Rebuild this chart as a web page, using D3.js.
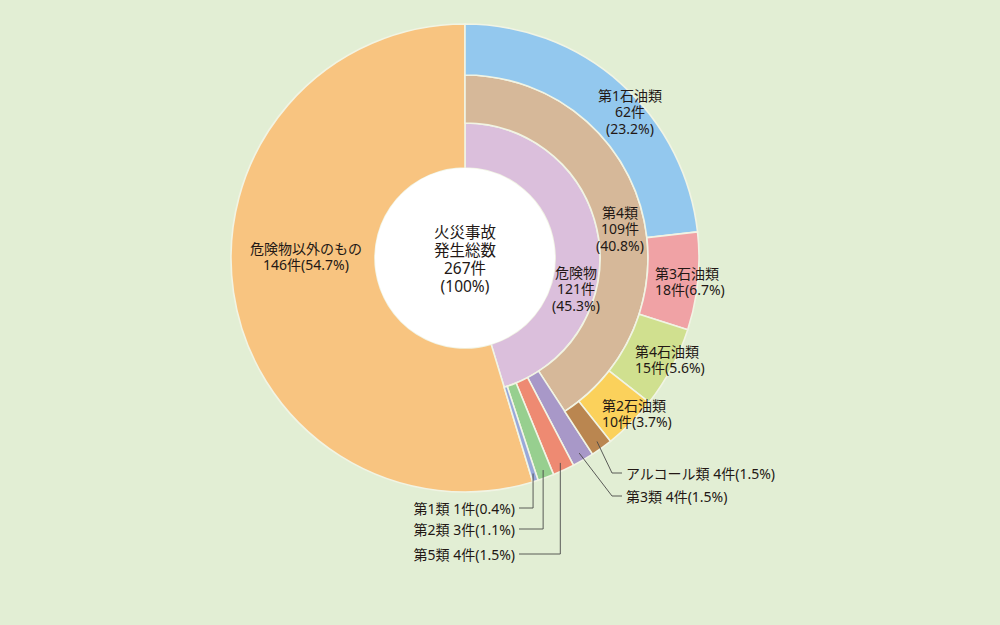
<!DOCTYPE html>
<html><head><meta charset="utf-8">
<script src="https://cdn.jsdelivr.net/npm/d3@7"></script>
<style>
body{margin:0;background:#e2eed4}
svg{display:block}
text{font-family:"Noto Sans","Noto Sans CJK JP",sans-serif;fill:#231815}
</style>
</head><body>
<svg width="1000" height="625"></svg>
<script>
// ---- data ----
const total = 267;
const groupNames  = ["危険物", "危険物以外のもの"];
const groupValues = [121, 146];
const classNames  = ["第4類", "第3類", "第5類", "第2類", "第1類"];
const classValues = [109, 4, 4, 3, 1];
const oilNames    = ["第1石油類", "第3石油類", "第4石油類", "第2石油類", "アルコール類"];
const oilValues   = [62, 18, 15, 10, 4];
const centerLines = ["火災事故", "発生総数", "267件", "(100%)"];

// ---- styles ----
const groupColors = ["#dbbfdc", "#f8c480"];
const classColors = ["#d6b899", "#a898c8", "#ee8a72", "#97cf8f", "#98a8da"];
const oilColors   = ["#93c8ee", "#f0a2a5", "#d0e08f", "#fbd15b", "#ba8650"];

const cx = 465, cy = 258;
const R0 = 90, R1 = 135, R2 = 183, R3 = 234;

const svg = d3.select("svg");
const g = svg.append("g").attr("transform", `translate(${cx},${cy})`);
const ang = d3.scaleLinear().domain([0, total]).range([0, 2 * Math.PI]);
const arc = d3.arc();
const pct = v => d3.format(".1f")(v / total * 100) + "%";

function segs(names, values, start, radii, colors) {
  let acc = start;
  return names.map((n, i) => {
    const s = { name: n, value: values[i], a0: ang(acc), a1: ang(acc + values[i]),
                r0: radii[i][0], r1: radii[i][1], color: colors[i] };
    acc += values[i];
    return s;
  });
}
const groups  = segs(groupNames, groupValues, 0, [[R0, R1], [R0, R3]], groupColors);
const classes = segs(classNames, classValues, 0,
  classNames.map((n, i) => i === 0 ? [R1, R2] : [R1, R3]), classColors);
const oils    = segs(oilNames, oilValues, 0, oilNames.map(() => [R2, R3]), oilColors);

const all = [...groups, ...classes, ...oils];
g.selectAll("path.s").data(all).join("path")
  .attr("class", "s")
  .attr("d", d => arc({ innerRadius: d.r0, outerRadius: d.r1, startAngle: d.a0, endAngle: d.a1 }))
  .attr("fill", d => d.color)
  .attr("stroke", "#f1f4e4")
  .attr("stroke-width", 1.6);

g.append("circle").attr("r", R0).attr("fill", "#ffffff");

// ---- labels ----
function multi(x, y, lines, anchor, size, lh) {
  const t = svg.append("text").attr("text-anchor", anchor)
    .attr("font-size", size);
  lines.forEach((l, i) => t.append("tspan").attr("x", x).attr("y", y + i * lh)
    .attr("dominant-baseline", "central").text(l));
}
const FS = 14, LH = 16.5;
multi(cx, 232, centerLines, "middle", 15.5, 18);

const byName = {};
all.forEach(d => byName[d.name] = d);
const lab3 = d => [d.name, d.value + "件", "(" + pct(d.value) + ")"];
const lab2 = d => [d.name, d.value + "件(" + pct(d.value) + ")"];

multi(630, 95, lab3(byName["第1石油類"]), "middle", FS, LH);
multi(620, 212, lab3(byName["第4類"]), "middle", FS, LH);
multi(576, 272, lab3(byName["危険物"]), "middle", FS, LH);
multi(655, 273, lab2(byName["第3石油類"]), "start", FS, LH);
multi(635, 351, lab2(byName["第4石油類"]), "start", FS, LH);
multi(602, 405, lab2(byName["第2石油類"]), "start", FS, LH);
multi(306, 248, lab2(byName["危険物以外のもの"]), "middle", FS, LH);

// leader-line labels
const leaders = [
  { name: "アルコール類", x: 626, y: 473, side: "right" },
  { name: "第3類", x: 626, y: 496, side: "right" },
  { name: "第1類", x: 515, y: 508, side: "left" },
  { name: "第2類", x: 515, y: 529, side: "left" },
  { name: "第5類", x: 515, y: 554, side: "left" }
];
const RL = 226;
leaders.forEach(L => {
  const d = byName[L.name];
  const m = (d.a0 + d.a1) / 2;
  const sx = cx + RL * Math.sin(m), sy = cy - RL * Math.cos(m);
  let pts;
  if (L.side === "right") pts = [[sx, sy], [L.x - 14, L.y], [L.x - 4, L.y]];
  else pts = [[sx, sy], [sx, L.y], [L.x + 4, L.y]];
  svg.append("path").attr("d", d3.line()(pts)).attr("fill", "none")
    .attr("stroke", "#4a4a48").attr("stroke-width", 0.9);
  multi(L.x, L.y, [d.name + " " + d.value + "件(" + pct(d.value) + ")"],
    L.side === "right" ? "start" : "end", FS, LH);
});
</script>
</body></html>
